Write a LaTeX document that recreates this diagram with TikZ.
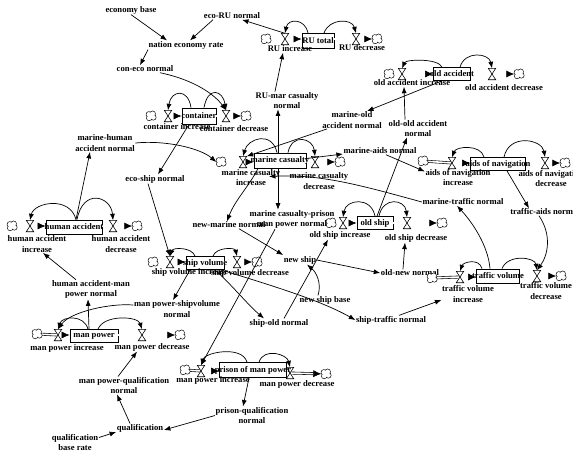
\documentclass[tikz,border=0pt]{standalone}
\usepackage{fontspec}
\setmainfont{Liberation Serif}
\usetikzlibrary{arrows.meta}
\begin{document}
\begin{tikzpicture}[x=1pt,y=-1pt,
 font=\fontsize{8.6}{10.4}\selectfont\bfseries,
 lbl/.style={inner sep=0.5pt, align=center},
 stockbox/.style={draw, line width=0.8pt, rectangle, inner sep=0pt, fill=white},
 cloudy/.style={circle, inner sep=0pt, minimum size=9pt},
 valvenode/.style={inner sep=0pt, minimum width=7pt, minimum height=11pt},
 pipe/.style={draw, line width=0.6pt, double distance=1.6pt, -{Latex[length=8pt,width=7pt]}},
 pipeplain/.style={draw, line width=0.6pt, double distance=1.6pt},
 con/.style={draw, line width=0.7pt, -{Latex[length=6.5pt,width=5pt]}},
 hglass/.style={draw, line width=0.6pt, fill=white}
]
\useasboundingbox (0,0) rectangle (573,461);
\fill[white] (0,0) rectangle (573,461);
\clip (0,0) rectangle (573,461);

% ---------- stocks ----------
\node[stockbox, minimum width=32pt, minimum height=15pt] (sRU) at (318,41) {};
\node[stockbox, minimum width=34pt, minimum height=16pt] (sCON) at (199,116) {};
\node[stockbox, minimum width=37pt, minimum height=13pt] (sOA) at (452,74) {};
\node[stockbox, minimum width=52pt, minimum height=15pt] (sMC) at (280,160.5) {};
\node[stockbox, minimum width=55pt, minimum height=13pt] (sAN) at (498,164) {};
\node[stockbox, minimum width=56pt, minimum height=14pt] (sHA) at (74,227) {};
\node[stockbox, minimum width=38pt, minimum height=13pt] (sSV) at (205,263) {};
\node[stockbox, minimum width=36pt, minimum height=13pt] (sOS) at (375,223) {};
\node[stockbox, minimum width=43pt, minimum height=14pt] (sTV) at (498,276) {};
\node[stockbox, minimum width=48pt, minimum height=13pt] (sMP) at (94,336) {};
\node[stockbox, minimum width=67pt, minimum height=15pt] (sPMP) at (253,370) {};

% ---------- clouds ----------
\node[cloudy] (cRUs) at (266,39) {};
\node[cloudy] (cRUe) at (377,39) {};
\node[cloudy] (cCs) at (151,116) {};
\node[cloudy] (cCe) at (246,116) {};
\node[cloudy] (cOAs) at (389,74) {};
\node[cloudy] (cOAe) at (519,74) {};
\node[cloudy] (cMCs) at (221,162) {};
\node[cloudy] (cMCe) at (340,162) {};
\node[cloudy] (cANs) at (423,161) {};
\node[cloudy] (cANe) at (565,163) {};
\node[cloudy] (cHAs) at (12,226) {};
\node[cloudy] (cHAe) at (137,226) {};
\node[cloudy] (cSVs) at (153,262) {};
\node[cloudy] (cSVe) at (257,262) {};
\node[cloudy] (cOSs) at (331,223) {};
\node[cloudy] (cOSe) at (442,223) {};
\node[cloudy] (cTVs) at (432,278) {};
\node[cloudy] (cTVe) at (561,276) {};
\node[cloudy] (cMPs) at (37,334) {};
\node[cloudy] (cMPe) at (180,335) {};
\node[cloudy] (cPs) at (185,370) {};
\node[cloudy] (cPe) at (326,374) {};

% ---------- valves ----------
\node[valvenode] (vRUi) at (285,39) {};
\node[valvenode] (vRUd) at (356,39) {};
\node[valvenode] (vCi) at (168,116) {};
\node[valvenode] (vCd) at (226,116) {};
\node[valvenode] (vOAi) at (402,74) {};
\node[valvenode] (vOAd) at (492,74) {};
\node[valvenode] (vMCi) at (243,162) {};
\node[valvenode] (vMCd) at (315,162) {};
\node[valvenode] (vANi) at (452,163) {};
\node[valvenode] (vANd) at (545,163) {};
\node[valvenode] (vHAi) at (30,226) {};
\node[valvenode] (vHAd) at (113,226) {};
\node[valvenode] (vSVi) at (170,262) {};
\node[valvenode] (vSVd) at (237,262) {};
\node[valvenode] (vOSi) at (343,223) {};
\node[valvenode] (vOSd) at (407,223) {};
\node[valvenode] (vTVi) at (460,277) {};
\node[valvenode] (vTVd) at (537,276) {};
\node[valvenode] (vMPi) at (58,335) {};
\node[valvenode] (vMPd) at (142,335) {};
\node[valvenode] (vPi) at (201,371) {};
\node[valvenode] (vPd) at (290,373) {};

% ---------- auxiliary texts ----------
\node[lbl] (aEB) at (131,10) {economy base};
\node[lbl] (aERU) at (232,16) {eco-RU normal};
\node[lbl] (aNER) at (186,45) {nation economy rate};
\node[lbl] (aCEN) at (145,69) {con-eco normal};
\node[lbl] (aRUM) at (287,100.5) {RU-mar casualty\\normal};
\node[lbl] (aMOA) at (352,120) {marine-old\\accident normal};
\node[lbl] (aOOA) at (418,128.5) {old-old accident\\normal};
\node[lbl] (aMHA) at (105,143) {marine-human\\accident normal};
\node[lbl] (aMAN) at (380,151) {marine-aids normal};
\node[lbl] (aESN) at (155,179) {eco-ship normal};
\node[lbl] (aMCP) at (292,219.5) {marine casualty-prison\\man power normal};
\node[lbl] (aNMN) at (229,225) {new-marine normal};
\node[lbl] (aNS) at (300,260) {new ship};
\node[lbl] (aNSB) at (325,300) {new ship base};
\node[lbl] (aONN) at (410,273) {old-new normal};
\node[lbl] (aMTN) at (463,202) {marine-traffic normal};
\node[lbl] (aTAN) at (545,212) {traffic-aids normal};
\node[lbl] (aHAM) at (91,289.5) {human accident-man\\power normal};
\node[lbl] (aMPS) at (177,309) {man power-shipvolume\\normal};
\node[lbl] (aSON) at (279,323) {ship-old normal};
\node[lbl] (aSTN) at (391,320) {ship-traffic normal};
\node[lbl] (aMPQ) at (124,385.5) {man power-qualification\\normal};
\node[lbl] (aPQN) at (252,415.5) {prison-qualification\\normal};
\node[lbl] (aQ) at (140,428) {qualification};
\node[lbl] (aQBR) at (75,442.5) {qualification\\base rate};

% ---------- flow labels ----------
\node[lbl] (lRUi) at (290,49) {RU increase};
\node[lbl] (lRUd) at (362,48) {RU decrease};
\node[lbl] (lCi) at (177,127) {container increase};
\node[lbl] (lCd) at (234,129) {container decrease};
\node[lbl] (lOAi) at (412,83) {old accident increase};
\node[lbl] (lOAd) at (504,88) {old accident decrease};
\node[lbl] (lMCi) at (251,177.5) {marine casualty\\increase};
\node[lbl] (lMCd) at (319,181) {marine casualty\\decrease};
\node[lbl] (lANi) at (458,177.5) {aids of navigation\\increase};
\node[lbl] (lANd) at (551,178.5) {aids of navigation\\decrease};
\node[lbl] (lHAi) at (37,244) {human accident\\increase};
\node[lbl] (lHAd) at (121,244) {human accident\\decrease};
\node[lbl] (lSVi) at (190,272) {ship volume increase};
\node[lbl] (lSVd) at (250,273) {ship volume decrease};
\node[lbl] (lOSi) at (340,235) {old ship increase};
\node[lbl] (lOSd) at (416,238) {old ship decrease};
\node[lbl] (lTVi) at (468,294) {traffic volume\\increase};
\node[lbl] (lTVd) at (546,291) {traffic volume\\decrease};
\node[lbl] (lMPi) at (67,348) {man power increase};
\node[lbl] (lMPd) at (152,347) {man power decrease};
\node[lbl] (lPi) at (213,380) {man power increase};
\node[lbl] (lPd) at (297,384) {man power decrease};

% ---------- pipes ----------
\foreach \cs/\vi/\st/\vd/\ce in {cRUs/vRUi/sRU/vRUd/cRUe, cCs/vCi/sCON/vCd/cCe, cOAs/vOAi/sOA/vOAd/cOAe, cMCs/vMCi/sMC/vMCd/cMCe, cANs/vANi/sAN/vANd/cANe, cHAs/vHAi/sHA/vHAd/cHAe, cSVs/vSVi/sSV/vSVd/cSVe, cOSs/vOSi/sOS/vOSd/cOSe, cTVs/vTVi/sTV/vTVd/cTVe, cMPs/vMPi/sMP/vMPd/cMPe, cPs/vPi/sPMP/vPd/cPe}{
  \draw[pipeplain] (\cs) -- (\vi.center);
  \draw[pipe] (\vi.center) -- (\vi.center -| \st.west);
  \draw[pipeplain] (\st.east |- \vd.center) -- (\vd.center);
  \draw[pipe] (\vd.center) -- (\ce);
}
\foreach \v in {vRUi,vRUd,vCi,vCd,vOAi,vOAd,vMCi,vMCd,vANi,vANd,vHAi,vHAd,vSVi,vSVd,vOSi,vOSd,vTVi,vTVd,vMPi,vMPd,vPi,vPd}{
  \draw[hglass] (\v.north west) -- (\v.north east) -- (\v.south west) -- (\v.south east) -- cycle;
}
% cloud glyphs: union of small discs, outlined
\foreach \c in {cRUs,cRUe,cCs,cCe,cOAs,cOAe,cMCs,cMCe,cANs,cANe,cHAs,cHAe,cSVs,cSVe,cOSs,cOSe,cTVs,cTVe,cMPs,cMPe,cPs,cPe}{
  \foreach \dx/\dy/\r in {-2.2/-1.6/2.4, 1.6/-2.2/2.5, 2.4/1.4/2.4, -1.9/2.1/2.3, 0/0/2.8}{
    \fill[black] ([shift={(\dx,\dy)}]\c.center) circle (\r+0.65);
  }
  \foreach \dx/\dy/\r in {-2.2/-1.6/2.4, 1.6/-2.2/2.5, 2.4/1.4/2.4, -1.9/2.1/2.3, 0/0/2.8}{
    \fill[white] ([shift={(\dx,\dy)}]\c.center) circle (\r);
  }
}

% ---------- stock-to-rate arcs ----------
\draw[con] ([xshift=-10pt]sRU.north) .. controls +(-3,-15) and +(3,-15) .. (vRUi.north);
\draw[con] ([xshift=6pt]sRU.north) .. controls +(5,-15) and +(-4,-15) .. (vRUd.north);
\draw[con] ([xshift=-8pt]sCON.north) .. controls +(-3,-20) and +(3,-20) .. (vCi.north);
\draw[con] ([xshift=5pt]sCON.north) .. controls +(4,-22) and +(-3,-20) .. (vCd.north);
\draw[con] ([xshift=-10pt]sOA.north) .. controls +(-4,-9) and +(4,-9) .. (vOAi.north);
\draw[con] ([xshift=8pt]sOA.north) .. controls +(5,-17) and +(-3,-15) .. (vOAd.north);
\draw[con] ([xshift=-3pt]sMC.north) .. controls +(-5,-22) and +(5,-18) .. (vMCi.north);
\draw[con] ([xshift=8pt]sMC.north) .. controls +(4,-20) and +(-2,-18) .. (vMCd.north);
\draw[con] ([xshift=-14pt]sAN.north) .. controls +(-3,-13) and +(4,-11) .. (vANi.north);
\draw[con] ([xshift=6pt]sAN.north) .. controls +(5,-24) and +(-3,-18) .. (vANd.north);
\draw[con] ([xshift=2pt]sHA.north) .. controls +(-6,-24) and +(4,-18) .. (vHAi.north);
\draw[con] ([xshift=3pt]sHA.north) .. controls +(6,-32) and +(-2,-24) .. (vHAd.north);
\draw[con] ([xshift=-10pt]sSV.north) .. controls +(-3,-9) and +(3,-9) .. (vSVi.north);
\draw[con] ([xshift=8pt]sSV.north) .. controls +(3,-9) and +(-2,-9) .. (vSVd.north);
\draw[con] (sOS.north) .. controls +(-4,-20) and +(3,-18) .. (vOSi.north);
\draw[con] ([xshift=4pt]sOS.north) .. controls +(4,-20) and +(-2,-18) .. (vOSd.north);
\draw[con] ([xshift=-16pt]sTV.north) .. controls +(-3,-11) and +(3,-9) .. (vTVi.north);
\draw[con] ([xshift=4pt]sTV.north) .. controls +(6,-15) and +(-2,-13) .. (vTVd.north);
\draw[con] ([xshift=-6pt]sMP.north) .. controls +(-4,-15) and +(4,-13) .. (vMPi.north);
\draw[con] ([xshift=4pt]sMP.north) .. controls +(6,-15) and +(-4,-13) .. (vMPd.north);
\draw[con] ([xshift=-6pt]sPMP.north) .. controls +(-5,-17) and +(4,-13) .. (vPi.north);
\draw[con] ([xshift=6pt]sPMP.north) .. controls +(5,-15) and +(-3,-13) .. (vPd.north);

% ---------- other connectors ----------
\draw[con] (aEB.south) -- ([xshift=-19pt]aNER.north);
\draw[con] ([xshift=-19pt]aERU.south) -- ([xshift=4pt]aNER.north);
\draw[con] ([xshift=-38pt]aNER.south) -- ([xshift=-5pt]aCEN.north);
\draw[con] (vRUi.north) -- ([xshift=10pt]aERU.south);
\draw[con] ([xshift=-12pt]aRUM.north) -- ([xshift=-7pt]lRUi.south);
\draw[con] ([xshift=-2pt]sMC.north) -- ([xshift=-9pt]aRUM.south);
\draw[con] ([xshift=15pt]aCEN.south) .. controls (195,80) and (215,95) .. (vCd.north);
\draw[con] ([xshift=-10pt]sCON.south) -- ([xshift=3pt]aESN.north);
\draw[con] ([xshift=-7pt]aESN.south) -- (vSVi.north);
\draw[con] (aMHA.east) .. controls (165,140) and (200,148) .. (cMCs.west);
\draw[con] ([xshift=2pt]sHA.north) -- ([xshift=-15pt]aMHA.south);
\draw[con] ([xshift=-15pt]aHAM.north) -- ([xshift=6pt]lHAi.south);
\draw[con] ([xshift=-5pt]sMP.north) -- ([xshift=-3pt]aHAM.south);
\draw[con] ([yshift=4pt]aMPS.west) .. controls (110,303) and (70,312) .. (vMPi.north);
\draw[con] ([xshift=-15pt]sSV.south) -- ([xshift=-4pt]aMPS.north);
\draw[con] ([xshift=-6pt]aMPQ.north) -- ([xshift=-15pt]lMPd.south);
\draw[con] ([xshift=-10pt]aQ.north) -- ([xshift=-7pt]aMPQ.south);
\draw[con] ([yshift=5pt]aQBR.east) -- ([yshift=-4pt]aQ.west);
\draw[con] (aPQN.west) -- ([yshift=-2pt]aQ.east);
\draw[con] ([xshift=-4pt]sPMP.south) -- ([xshift=-9pt]aPQN.north);
\draw[con] ([xshift=-17pt]aMCP.south) -- (vPi.north);
\draw[con] ([xshift=-2pt]sMC.south) -- ([xshift=-14pt]aMCP.north);
\draw[con] ([xshift=-22pt]sMC.south) .. controls (250,185) and (235,200) .. ([xshift=-2pt]aNMN.north);
\draw[con] ([xshift=10pt]aNMN.south) -- ([yshift=5pt]aNS.west);
\draw[con] ([xshift=-7pt]aNSB.north) .. controls (322,283) and (316,272) .. ([xshift=7pt]aNS.south);
\draw[con] (aNS.east) -- (aONN.west);
\draw[con] ([xshift=-7pt]aONN.north) -- ([xshift=-11pt]lOSd.south);
\draw[con] ([xshift=5pt]aSON.north) -- ([xshift=-12pt]lOSi.south);
\draw[con] ([xshift=10pt]sSV.south) .. controls (232,285) and (248,305) .. ([xshift=-15pt]aSON.north);
\draw[con] ([xshift=16pt]sSV.south) .. controls (270,285) and (320,300) .. (aSTN.west);
\draw[con] ([xshift=8pt]aSTN.north) -- ([yshift=-6pt]lTVi.west);
\draw[con] ([xshift=-8pt]sTV.north) .. controls (488,245) and (472,222) .. ([xshift=-6pt]aMTN.south);
\draw[con] (aMTN.west) .. controls (360,185) and (320,174) .. ([xshift=-12pt,yshift=1pt]lMCi.east);
\draw[con] ([xshift=9pt]sAN.south) -- ([xshift=-16pt]aTAN.north);
\draw[con] ([xshift=-6pt]aTAN.south) .. controls (552,235) and (548,255) .. (vTVd.north);
\draw[con] ([xshift=6pt]aMAN.south) -- ([yshift=6pt]lANi.west);
\draw[con] ([yshift=2pt]sMC.east) -- ([yshift=-3pt]aMAN.west);
\draw[con] ([xshift=-10pt]sOA.south) -- ([xshift=15pt]aMOA.north);
\draw[con] ([xshift=-25pt]aMOA.south) -- (vMCi.north east);
\draw[con] ([xshift=-13pt]aOOA.north) -- ([xshift=-8pt]lOAi.south);
\draw[con] ([xshift=2pt]sOS.north) -- ([xshift=-11pt]aOOA.south);

% ---------- stock names ----------
\node[lbl] (tRU) at (sRU) {RU total};
\node[lbl] (tCON) at (sCON) {container};
\node[lbl] (tOA) at (sOA) {old accident};
\node[lbl] (tMC) at (sMC) {marine casualty};
\node[lbl] (tAN) at (sAN) {aids of navigation};
\node[lbl] (tHA) at (sHA) {human accident};
\node[lbl] (tSV) at (sSV) {ship volume};
\node[lbl] (tOS) at (sOS) {old ship};
\node[lbl] (tTV) at (sTV) {traffic volume};
\node[lbl] (tMP) at (sMP) {man power};
\node[lbl] (tPMP) at (sPMP) {prison of man power};
\end{tikzpicture}
\end{document}
